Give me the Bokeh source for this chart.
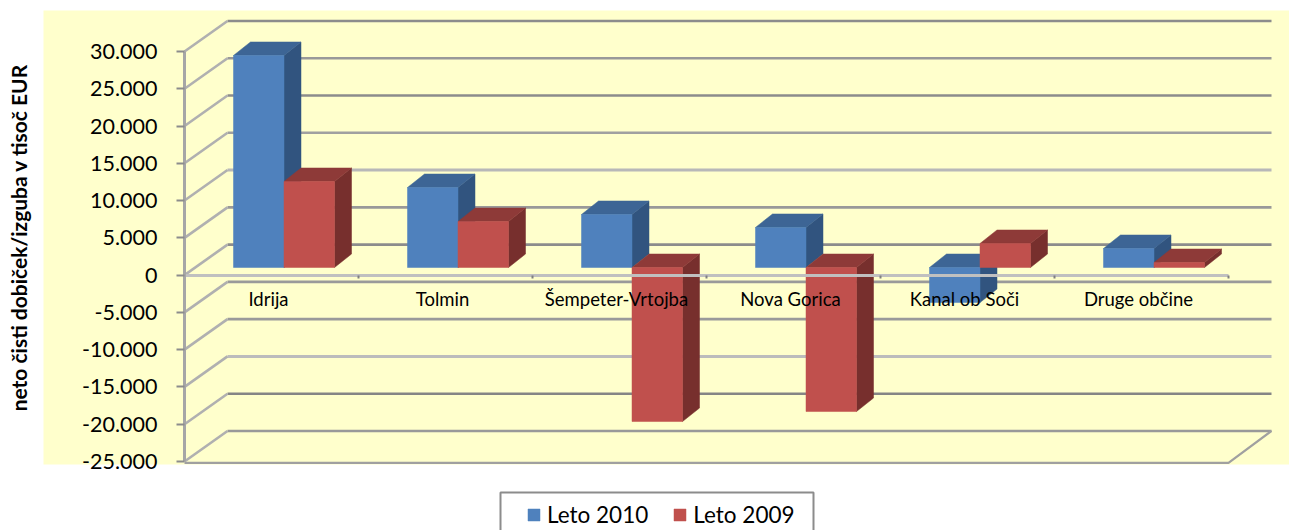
from bokeh.plotting import figure
from bokeh.embed import file_html
from bokeh.resources import INLINE
from bokeh.models import (FixedTicker, Range1d, BoxAnnotation, Legend, LegendItem, Label)
import math

categories = ["Idrija", "Tolmin", "Šempeter-Vrtojba", "Nova Gorica", "Kanal ob Soči", "Druge občine"]
leto_2010 = [28440, 10730, 7110, 5370, -4700, 2550]
leto_2009 = [11540, 6170, -20660, -19320, 3220, 670]
y_ticks = [30000, 25000, 20000, 15000, 10000, 5000, 0, -5000, -10000, -15000, -20000, -25000]
y_labels = ["30.000", "25.000", "20.000", "15.000", "10.000", "5.000", "0",
            "-5.000", "-10.000", "-15.000", "-20.000", "-25.000"]
wall_colors = ["#8c8c8c", "#999999", "#8c8c8c", "#a0a0a0", "#b8b8b8", "#999999",
               "#8c8c8c", "#9a9a9a", "#9a9a9a", "#bcbcbc", "#858585", "#999999"]
y_title = "neto  čisti dobiček/izguba  v tisoč EUR"

FONT = "Lato"
W, H = 1289, 530
AXIS_X = 184         # page pixel of the value axis
ZERO_Y = 274.6       # page pixel of the value 0
PX_X = 174.0         # pixels per category
PX_Y = 0.007455      # pixels per value unit
WALL_DX, WALL_DY = 43 / PX_X, 30.5 / PX_Y
BAR_W = 50.5 / PX_X
BAR_SHIFT = 12.5 / PX_X
BAR_BASE = 7.6 / PX_Y
DEPTH_DX, DEPTH_DY = 17 / PX_X, 13.5 / PX_Y
LABEL_SHIFT = -3 / PX_X

p = figure(width=W, height=H, output_backend="svg", toolbar_location=None,
           min_border=0,
           x_range=Range1d(-AXIS_X / PX_X, (W - AXIS_X) / PX_X),
           y_range=Range1d(-(H - ZERO_Y) / PX_Y, ZERO_Y / PX_Y),
           background_fill_color="white", border_fill_color="white",
           outline_line_color=None)
p.grid.visible = False

# yellow chart area (screen y counts from the bottom)
p.add_layout(BoxAnnotation(left=43, right=W, top=H - 10, bottom=H - 464,
                           left_units="screen", right_units="screen",
                           top_units="screen", bottom_units="screen",
                           fill_color="#ffffcc", fill_alpha=1, line_color=None,
                           level="underlay"))

# back wall and side wall lines
for v, c in zip(y_ticks, wall_colors):
    w = 3 if c in ("#b8b8b8", "#bcbcbc") else 2.6
    p.line([WALL_DX, 6 + WALL_DX], [v + WALL_DY, v + WALL_DY], line_color=c, line_width=w)
    p.line([0, WALL_DX], [v, v + WALL_DY], line_color="#b0b0b0", line_width=2.6)
# floor front and right edge
p.line([0, 6, 6 + WALL_DX], [y_ticks[-1] - 200, y_ticks[-1] - 200, y_ticks[-1] + WALL_DY],
       line_color="#a0a0a0", line_width=2.2)


def draw_series(values, offset, front, top, side):
    fl, fr, ft, fb, px, py, sx, sy = [], [], [], [], [], [], [], []
    for i, v in enumerate(values):
        l = i + 0.5 + BAR_SHIFT + offset * BAR_W
        r = l + BAR_W
        hi = BAR_BASE + max(v, 0)
        lo = BAR_BASE + min(v, 0)
        fl.append(l); fr.append(r); ft.append(hi); fb.append(lo)
        px.append([l, l + DEPTH_DX, r + DEPTH_DX, r])
        py.append([hi, hi + DEPTH_DY, hi + DEPTH_DY, hi])
        sx.append([r, r + DEPTH_DX, r + DEPTH_DX, r])
        sy.append([hi, hi + DEPTH_DY, lo + DEPTH_DY, lo])
    p.patches(sx, sy, fill_color=side, line_color=side, line_width=0.5)
    p.patches(px, py, fill_color=top, line_color=top, line_width=0.5)
    return p.quad(left=fl, right=fr, top=ft, bottom=fb, fill_color=front, line_color=front, line_width=0.5)


r2010 = draw_series(leto_2010, -1, "#4f81bd", "#3d6595", "#31547f")
r2009 = draw_series(leto_2009, 0, "#c0504d", "#8e3a38", "#772f2d")

# value axis
ya = p.yaxis[0]
ya.fixed_location = 0
ya.ticker = FixedTicker(ticks=y_ticks)
ya.major_label_overrides = dict(zip(y_ticks, y_labels))
ya.bounds = (y_ticks[-1], y_ticks[0])
ya.major_tick_out = 8
ya.major_tick_in = 0
ya.minor_tick_out = 0
ya.minor_tick_in = 0
ya.major_tick_line_color = "#8c8c8c"
ya.major_tick_line_width = 2
ya.axis_line_color = "#a6a6a6"
ya.axis_line_width = 3
ya.major_label_standoff = 19
ya.major_label_text_font = FONT
ya.major_label_text_font_size = "21.5px"
ya.major_label_text_color = "#000000"

p.add_layout(Label(x=18, y=H - 232, x_units="screen", y_units="screen", text=y_title,
                   angle=math.pi / 2, text_align="center", text_baseline="middle",
                   text_font=FONT, text_font_style="bold", text_font_size="21px",
                   text_color="#000000"))

# category axis on the value 0
xa = p.xaxis[0]
xa.fixed_location = 0
centers = [i + 0.5 + LABEL_SHIFT for i in range(len(categories))]
xa.ticker = FixedTicker(ticks=centers, minor_ticks=list(range(len(categories) + 1)))
xa.major_label_overrides = dict(zip(centers, categories))
xa.bounds = (0, len(categories))
xa.axis_line_color = "#c0c0c0"
xa.axis_line_width = 3
xa.major_tick_in = 0
xa.major_tick_out = 0
xa.minor_tick_in = 0
xa.minor_tick_out = 3
xa.minor_tick_line_color = "#808080"
xa.minor_tick_line_width = 2
xa.major_label_standoff = 10
xa.major_label_text_font = FONT
xa.major_label_text_font_size = "18.5px"
xa.major_label_text_color = "#000000"

# legend frame and legend
p.add_layout(BoxAnnotation(left=500, right=813, top=H - 492, bottom=H - 540,
                           left_units="screen", right_units="screen",
                           top_units="screen", bottom_units="screen",
                           fill_color="white", fill_alpha=1,
                           line_color="#8c8c8c", line_alpha=1, line_width=2))
legend = Legend(items=[LegendItem(label="Leto 2010", renderers=[r2010]),
                       LegendItem(label="Leto 2009", renderers=[r2009])],
                orientation="horizontal", location=(526, 2),
                border_line_color=None, background_fill_alpha=0,
                label_text_font=FONT, label_text_font_size="22.5px",
                label_text_color="#000000", glyph_width=15, glyph_height=15,
                padding=0, margin=0, spacing=24, label_standoff=6)
p.add_layout(legend, "center")

open("out.html", "w").write(file_html(p, INLINE))
